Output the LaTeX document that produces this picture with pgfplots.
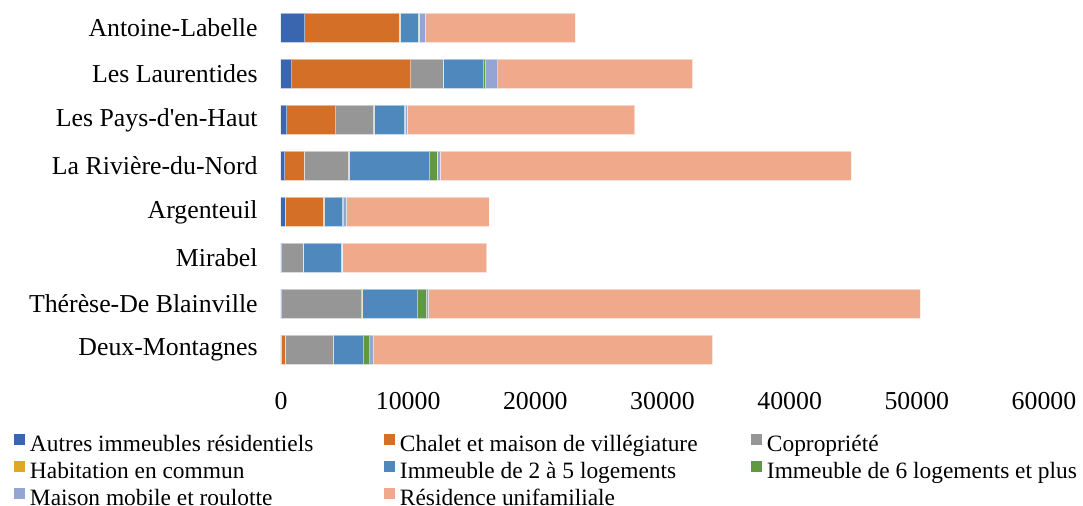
\documentclass[border=0pt]{standalone}
\usepackage{fontspec}
\setmainfont{Liberation Serif}[Ligatures=TeXOff]
\usepackage{pgfplots}
\usepackage{pgfplotstable}
\pgfplotsset{compat=1.18}
\definecolor{c1}{RGB}{58,102,176}
\definecolor{c2}{RGB}{212,111,40}
\definecolor{c3}{RGB}{150,150,150}
\definecolor{c4}{RGB}{222,168,36}
\definecolor{c5}{RGB}{79,136,189}
\definecolor{c6}{RGB}{97,153,64}
\definecolor{c7}{RGB}{148,165,211}
\definecolor{c8}{RGB}{240,169,139}
\pgfplotstableread{
y autres chalet copro habit imma immb mobile resid
0 30 314 3800 20 2358 472 288 26651
1 52 20 6289 30 4376 681 157 38679
2 52 0 1703 10 2961 79 20 11373
3 341 2987 105 20 1389 79 236 11216
4 314 1520 3485 40 6342 603 236 32311
5 472 3852 2961 30 2411 50 157 17898
6 865 9355 2542 50 3145 131 970 15304
7 1887 7413 30 30 1415 80 524 11766
}\data
\begin{document}
\fontsize{12}{14}\selectfont
\begin{tikzpicture}
\begin{axis}[
  name=ax,
  scale only axis,
  width=381.5pt, height=184pt,
  xbar stacked,
  bar width=14.75pt,
  xmin=0, xmax=60000,
  ymin=-0.5, ymax=7.5,
  xtick={0,10000,...,60000},
  ytick={0,...,7},
  yticklabels={Deux-Montagnes,Thérèse-De Blainville,Mirabel,Argenteuil,La Rivière-du-Nord,Les Pays-d'en-Haut,Les Laurentides,Antoine-Labelle},
  scaled x ticks=false,
  /pgf/number format/1000 sep={},
  /pgf/number format/assume math mode=true,
  axis line style={draw=none},
  tick style={draw=none},
  major tick length=0pt,
  ticklabel style={font=\fontsize{12.9}{15}\selectfont},
  xticklabel style={inner sep=0pt, anchor=north, yshift=-9.5pt},
  yticklabel style={inner sep=0pt, anchor=east, xshift=-11.5pt},
  every axis plot/.append style={draw=white, draw opacity=0.5, line width=0.5pt},
  legend columns=3,
  legend cell align=left,
  legend image code/.code={\fill[#1, draw=none] (0pt,-1.5pt) rectangle (5.5pt,4pt);},
  legend style={at={(0,0)}, anchor=north west, xshift=-133.5pt, yshift=-28pt,
    draw=none, fill=none, inner sep=0pt, outer sep=0pt, row sep=0pt,
    font=\fontsize{11.7}{14}\selectfont,
    nodes={inner sep=0pt, text height=11.5pt, text depth=2pt},
    /tikz/every odd column/.append style={column sep=2.5pt}},
]
\addplot[fill=c1] table[x=autres,y=y]{\data};
\addlegendentry{\makebox[177pt][l]{Autres immeubles résidentiels}}
\addplot[fill=c2] table[x=chalet,y=y]{\data};
\addlegendentry{\makebox[175.5pt][l]{Chalet et maison de villégiature}}
\addplot[fill=c3] table[x=copro,y=y]{\data};
\addlegendentry{Copropriété}
\addplot[fill=c4] table[x=habit,y=y]{\data};
\addlegendentry{\makebox[177pt][l]{Habitation en commun}}
\addplot[fill=c5] table[x=imma,y=y]{\data};
\addlegendentry{\makebox[175.5pt][l]{Immeuble de 2 à 5 logements}}
\addplot[fill=c6] table[x=immb,y=y]{\data};
\addlegendentry{Immeuble de 6 logements et plus}
\addplot[fill=c7] table[x=mobile,y=y]{\data};
\addlegendentry{\makebox[177pt][l]{Maison mobile et roulotte}}
\addplot[fill=c8] table[x=resid,y=y]{\data};
\addlegendentry{\makebox[175.5pt][l]{Résidence unifamiliale}}
\end{axis}
\pgfresetboundingbox
\path ([xshift=-140.5pt,yshift=-66.5pt]ax.south west) rectangle ([xshift=401pt,yshift=2.5pt]ax.north west);
\end{tikzpicture}
\end{document}
